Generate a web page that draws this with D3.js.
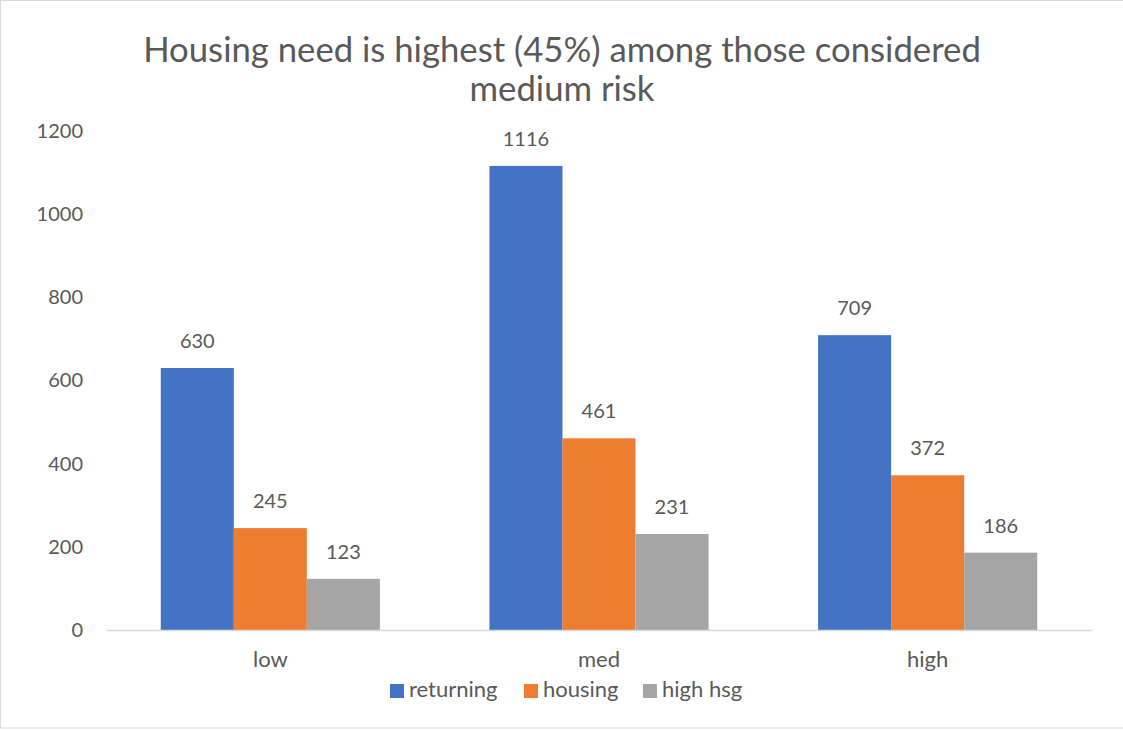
<!DOCTYPE html>
<html>
<head>
<meta charset="utf-8">
<script src="https://cdn.jsdelivr.net/npm/d3@7"></script>
<style>
  html, body { margin: 0; padding: 0; background: #fff; }
  svg { display: block; font-family: Lato, "Liberation Sans", sans-serif; }
</style>
</head>
<body>
<svg id="chart" width="1123" height="731"></svg>
<script>
const categories = ["low", "med", "high"];
const seriesNames = ["returning", "housing", "high hsg"];
const returning = [630, 1116, 709];
const housing = [245, 461, 372];
const highHsg = [123, 231, 186];
const yTicks = [0, 200, 400, 600, 800, 1000, 1200];
const titleLines = ["Housing need is highest (45%) among those considered", "medium risk"];
const colors = ["#4472C4", "#ED7D31", "#A5A5A5"];

const seriesValues = [returning, housing, highHsg];
const data = categories.map((c, i) => ({ cat: c, vals: seriesNames.map((s, j) => ({ s, v: seriesValues[j][i] })) }));

const svg = d3.select("#chart");
const textColor = "#595959";

svg.append("rect").attr("x", 0.5).attr("y", 0.5).attr("width", 1140).attr("height", 727.5)
  .attr("fill", "#fff").attr("stroke", "#D9D9D9").attr("stroke-width", 1);

const plot = { left: 106, right: 1092, top: 131, bottom: 630 };

const title = svg.append("text").attr("text-anchor", "middle").attr("fill", textColor)
  .style("font-size", "34.7px").style("font-weight", 400);
title.selectAll("tspan").data(titleLines).enter().append("tspan")
  .attr("x", 562).attr("y", (d, i) => 62 + i * 39).text(d => d);

const y = d3.scaleLinear().domain([0, 1200]).range([plot.bottom, plot.top]);
const x0 = d3.scaleBand().domain(categories).range([plot.left, plot.right]).paddingInner(1.5 / 4.5).paddingOuter(0.75 / 4.5);
const x1 = d3.scaleBand().domain(seriesNames).range([0, x0.bandwidth()]);

// y axis labels
const yAxis = d3.axisLeft(y).tickValues(yTicks).tickFormat(d3.format("d")).tickSize(0).tickPadding(0);
const yg = svg.append("g").attr("transform", `translate(${83},0)`).call(yAxis);
yg.select(".domain").remove();
yg.selectAll("text").attr("fill", textColor).style("font-size", "20px").style("font-family", "Lato, sans-serif");

// bars
const groups = svg.selectAll("g.cat").data(data).enter().append("g").attr("class", "cat")
  .attr("transform", d => `translate(${x0(d.cat)},0)`);
groups.selectAll("rect").data(d => d.vals).enter().append("rect")
  .attr("x", d => x1(d.s)).attr("width", x1.bandwidth())
  .attr("y", d => y(d.v)).attr("height", d => y(0) - y(d.v))
  .attr("fill", (d, j) => colors[j]);
groups.selectAll("text").data(d => d.vals).enter().append("text")
  .attr("x", d => x1(d.s) + x1.bandwidth() / 2).attr("y", d => y(d.v) - 20)
  .attr("text-anchor", "middle").attr("fill", textColor).style("font-size", "20px")
  .text(d => d.v);

// x axis
const xAxis = d3.axisBottom(x0.copy().paddingInner(0).paddingOuter(0)).tickSize(0).tickPadding(0);
const xg = svg.append("g").attr("transform", `translate(0,${plot.bottom})`).call(xAxis);
xg.select(".domain").attr("stroke", "#D9D9D9").attr("stroke-width", 1.5);
xg.selectAll("text").attr("fill", textColor).style("font-size", "22px").style("font-family", "Lato, sans-serif")
  .attr("dy", null).attr("y", 37);

// legend
const legendX = [390, 524, 643];
const lg = svg.selectAll("g.leg").data(seriesNames).enter().append("g").attr("class", "leg")
  .attr("transform", (d, i) => `translate(${legendX[i]},684)`);
lg.append("rect").attr("width", 14).attr("height", 14).attr("fill", (d, i) => colors[i]);
lg.append("text").attr("x", 19).attr("y", 13).attr("fill", textColor).style("font-size", "22px").text(d => d);
</script>
</body>
</html>
